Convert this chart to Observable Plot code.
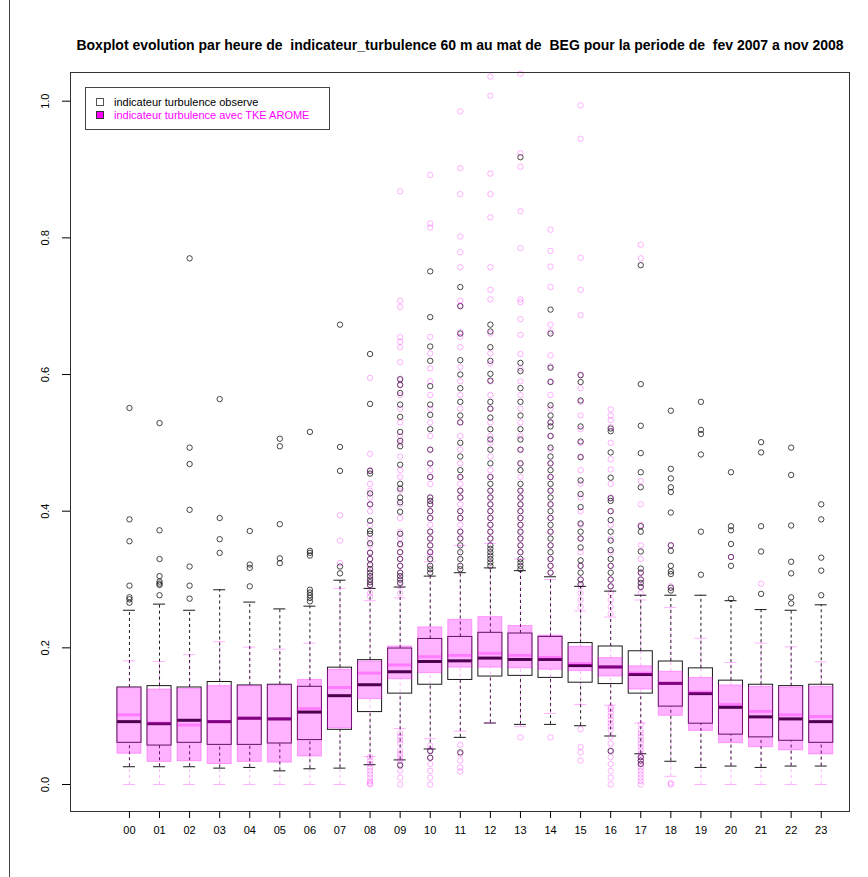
<!DOCTYPE html>
<html><head><meta charset="utf-8">
<script src="https://cdn.jsdelivr.net/npm/d3@7"></script>
<script src="https://cdn.jsdelivr.net/npm/@observablehq/plot@0.6"></script>
<style>
body{margin:0;background:#fff}
#wrap{position:relative;width:868px;height:877px}
svg text{white-space:pre}
</style>
</head><body><div id="wrap"></div>
<script>
const title = "Boxplot evolution par heure de  indicateur_turbulence 60 m au mat de  BEG pour la periode de  fev 2007 a nov 2008";
const hours = ["00","01","02","03","04","05","06","07","08","09","10","11","12","13","14","15","16","17","18","19","20","21","22","23"];
const yTicks = [0, 0.2, 0.4, 0.6, 0.8, 1.0];
const legendLabels = ["indicateur turbulence observe", "indicateur turbulence avec TKE AROME"];

// observed
const obsLow  = [0.026,0.026,0.026,0.024,0.025,0.020,0.023,0.024,0.029,0.036,0.052,0.069,0.090,0.088,0.088,0.086,0.071,0.045,0.034,0.025,0.027,0.025,0.027,0.027];
const obsQ1   = [0.061,0.057,0.061,0.058,0.058,0.060,0.065,0.080,0.106,0.133,0.146,0.153,0.158,0.159,0.156,0.149,0.147,0.133,0.114,0.089,0.073,0.069,0.064,0.061];
const obsMed  = [0.092,0.089,0.094,0.092,0.097,0.096,0.106,0.130,0.146,0.165,0.180,0.181,0.185,0.183,0.183,0.174,0.172,0.161,0.148,0.133,0.113,0.099,0.096,0.092];
const obsQ3   = [0.142,0.144,0.142,0.150,0.145,0.146,0.143,0.171,0.182,0.199,0.213,0.216,0.222,0.221,0.216,0.207,0.202,0.195,0.180,0.170,0.152,0.146,0.144,0.146];
const obsHigh = [0.255,0.264,0.255,0.285,0.267,0.257,0.261,0.299,0.287,0.289,0.305,0.310,0.317,0.313,0.304,0.290,0.283,0.277,0.277,0.277,0.269,0.256,0.255,0.263];
const obsOut = [
 [0.551,0.388,0.356,0.291,0.274,0.271,0.266],
 [0.529,0.372,0.330,0.305,0.297,0.294,0.292,0.277],
 [0.770,0.493,0.469,0.402,0.319,0.291,0.272],
 [0.564,0.390,0.359,0.339],
 [0.371,0.322,0.317,0.290],
 [0.506,0.495,0.381,0.331,0.324],
 [0.516,0.342,0.339,0.335,0.285,0.281,0.277,0.273,0.268],
 [0.673,0.494,0.459,0.319,0.309],
 [0.630,0.557,0.459,0.455,0.426,0.410,0.386,0.371,0.367,0.353,0.339,0.330,0.322,0.315,0.310,0.305,0.300,0.296,0.292],
 [0.593,0.585,0.573,0.556,0.538,0.516,0.503,0.495,0.468,0.440,0.433,0.420,0.413,0.399,0.367,0.352,0.340,0.330,0.320,0.310,0.305,0.300,0.295,0.028],
 [0.751,0.684,0.641,0.620,0.583,0.556,0.541,0.520,0.490,0.470,0.450,0.420,0.415,0.410,0.400,0.390,0.370,0.360,0.350,0.340,0.330,0.320,0.315,0.310,0.049,0.039],
 [0.728,0.700,0.660,0.621,0.600,0.580,0.560,0.540,0.530,0.500,0.480,0.460,0.450,0.430,0.420,0.400,0.390,0.370,0.360,0.350,0.340,0.330,0.320,0.315,0.047],
 [0.673,0.663,0.640,0.620,0.601,0.591,0.560,0.550,0.537,0.520,0.505,0.490,0.470,0.450,0.440,0.430,0.420,0.410,0.400,0.390,0.380,0.370,0.360,0.350,0.345,0.340,0.335,0.330,0.325,0.320],
 [0.918,0.617,0.605,0.580,0.560,0.540,0.520,0.505,0.490,0.470,0.460,0.440,0.430,0.420,0.410,0.400,0.390,0.380,0.370,0.360,0.350,0.340,0.330,0.325,0.320,0.315],
 [0.695,0.660,0.610,0.589,0.555,0.540,0.530,0.524,0.510,0.493,0.480,0.470,0.460,0.450,0.440,0.430,0.420,0.410,0.400,0.390,0.380,0.370,0.360,0.350,0.340,0.330,0.320,0.310],
 [0.599,0.589,0.562,0.524,0.502,0.479,0.445,0.425,0.406,0.382,0.370,0.360,0.347,0.328,0.320,0.310,0.300,0.293],
 [0.521,0.517,0.486,0.449,0.419,0.415,0.400,0.387,0.370,0.357,0.343,0.330,0.320,0.310,0.300,0.290,0.049],
 [0.760,0.586,0.525,0.485,0.457,0.435,0.378,0.370,0.341,0.316,0.310,0.300,0.295,0.289,0.040,0.035,0.030],
 [0.547,0.462,0.448,0.435,0.428,0.398,0.350,0.342,0.320,0.312,0.308,0.288,0.284],
 [0.560,0.519,0.513,0.483,0.370,0.307],
 [0.457,0.378,0.372,0.352,0.333,0.320,0.272],
 [0.501,0.486,0.378,0.341,0.279],
 [0.493,0.453,0.379,0.326,0.309,0.274,0.265],
 [0.410,0.388,0.332,0.313,0.277]
];

// AROME
const aroLow  = [0,0,0,0,0,0,0,0,0.041,0.082,0.067,0.078,0.090,0.085,0.104,0.117,0.116,0.090,0.012,0,0,0,0,0];
const aroQ1   = [0.045,0.033,0.034,0.030,0.033,0.032,0.041,0.082,0.125,0.154,0.163,0.171,0.171,0.170,0.168,0.166,0.158,0.139,0.1005,0.0785,0.0605,0.0545,0.050,0.044];
const aroMed  = [0.102,0.090,0.087,0.092,0.097,0.096,0.111,0.142,0.163,0.175,0.187,0.189,0.192,0.189,0.186,0.177,0.172,0.163,0.148,0.135,0.117,0.107,0.102,0.0995];
const aroQ3   = [0.141,0.139,0.140,0.144,0.144,0.145,0.153,0.168,0.180,0.202,0.230,0.241,0.245,0.232,0.218,0.2015,0.185,0.173,0.165,0.156,0.145,0.143,0.142,0.143];
const aroHigh = [0.181,0.180,0.190,0.209,0.201,0.198,0.207,0.287,0.269,0.273,0.326,0.350,0.353,0.330,0.300,0.254,0.245,0.270,0.259,0.214,0.1785,0.207,0.2015,0.1795];
const aroOut = [
 [],[],[],[],[],[],[],
 [0.394,0.357,0.324],
 [0.595,0.484,0.460,0.440,0.430,0.420,0.410,0.400,0.380,0.360,0.350,0.340,0.330,0.320,0.310,0.300,0.290,0.280,0.275,0.040,0.035,0.030,0.025,0.020,0.015,0.010,0.005,0.002,0.000],
 [0.868,0.708,0.699,0.655,0.648,0.640,0.618,0.594,0.584,0.570,0.550,0.530,0.510,0.500,0.480,0.460,0.450,0.430,0.410,0.390,0.370,0.360,0.350,0.340,0.330,0.320,0.310,0.300,0.290,0.280,0.075,0.070,0.065,0.060,0.050,0.045,0.040,0.035,0.030,0.020,0.010,0.000],
 [0.892,0.821,0.815,0.655,0.631,0.609,0.590,0.570,0.550,0.530,0.510,0.490,0.470,0.460,0.450,0.440,0.420,0.410,0.400,0.390,0.380,0.370,0.360,0.350,0.340,0.335,0.057,0.050,0.040,0.030,0.020,0.010,0.000],
 [0.985,0.902,0.864,0.802,0.779,0.757,0.708,0.701,0.662,0.655,0.640,0.611,0.590,0.570,0.550,0.530,0.510,0.490,0.470,0.450,0.440,0.430,0.420,0.410,0.400,0.390,0.380,0.370,0.360,0.058,0.045,0.035,0.025,0.019],
 [1.036,1.008,0.894,0.864,0.830,0.757,0.724,0.710,0.660,0.631,0.616,0.590,0.570,0.550,0.530,0.510,0.500,0.480,0.460,0.450,0.430,0.420,0.410,0.400,0.390,0.380,0.370,0.360],
 [1.040,0.924,0.904,0.839,0.785,0.710,0.706,0.681,0.658,0.630,0.609,0.590,0.570,0.550,0.530,0.510,0.490,0.470,0.450,0.430,0.420,0.410,0.400,0.390,0.380,0.370,0.360,0.350,0.340,0.069],
 [0.812,0.781,0.758,0.728,0.673,0.663,0.628,0.612,0.590,0.570,0.550,0.530,0.510,0.490,0.470,0.450,0.430,0.410,0.390,0.370,0.350,0.330,0.320,0.310,0.069],
 [0.994,0.945,0.771,0.724,0.687,0.600,0.580,0.560,0.540,0.520,0.500,0.480,0.460,0.440,0.420,0.400,0.380,0.360,0.340,0.320,0.300,0.290,0.280,0.270,0.260,0.081,0.055,0.047,0.035],
 [0.549,0.540,0.533,0.523,0.500,0.476,0.461,0.440,0.420,0.400,0.380,0.360,0.340,0.320,0.300,0.290,0.280,0.270,0.260,0.250,0.113,0.110,0.105,0.100,0.095,0.090,0.085,0.080,0.070,0.060,0.050,0.040,0.030,0.020,0.010,0.000],
 [0.790,0.770,0.444,0.410,0.380,0.350,0.330,0.310,0.300,0.290,0.280,0.088,0.080,0.075,0.070,0.065,0.060,0.055,0.050,0.045,0.040,0.035,0.030,0.025,0.020,0.015,0.010,0.005,0.000],
 [0.350,0.290,0.000,0.002],
 [],
 [0.333],
 [0.294],
 [],[]
];

const rows = (lo,q1,med,q3,hi) => hours.map((h,i)=>({i, lo:lo[i], q1:q1[i], med:med[i], q3:q3[i], hi:hi[i]}));
const obsRows = rows(obsLow,obsQ1,obsMed,obsQ3,obsHigh);
const aroRows = rows(aroLow,aroQ1,aroMed,aroQ3,aroHigh);
const outs = arr => arr.flatMap((vals,i)=>vals.map(v=>({i, v})));
const obsOutRows = outs(obsOut);
const aroOutRows = outs(aroOut);

const BW = 0.4, CW = 0.2;
const MAG = "#ff00ff", A = 0.3, DARK = "#1a1a1a";

function boxMarks(data, outData, o) {
  return [
    Plot.rect(data, {x1: d=>d.i-BW, x2: d=>d.i+BW, y1:"q1", y2:"q3", fill:o.fill, fillOpacity:o.fillOpacity, stroke:o.stroke, strokeOpacity:o.op, strokeWidth:1}),
    Plot.ruleX(data, {x:"i", y1:"q3", y2:"hi", stroke:o.stroke, strokeOpacity:o.op, strokeDasharray:"3,3"}),
    Plot.ruleX(data, {x:"i", y1:"lo", y2:"q1", stroke:o.stroke, strokeOpacity:o.op, strokeDasharray:"3,3"}),
    Plot.ruleY(data, {y:"hi", x1: d=>d.i-CW, x2: d=>d.i+CW, stroke:o.stroke, strokeOpacity:o.op}),
    Plot.ruleY(data, {y:"lo", x1: d=>d.i-CW, x2: d=>d.i+CW, stroke:o.stroke, strokeOpacity:o.op}),
    Plot.ruleY(data, {y:"med", x1: d=>d.i-BW, x2: d=>d.i+BW, stroke:o.medStroke, strokeOpacity:o.op, strokeWidth:3}),
    Plot.dot(outData, {x:"i", y:"v", r:2.7, stroke:o.stroke, strokeOpacity:o.dotOp, strokeWidth:1, fill:"none"})
  ];
}

const chart = Plot.plot({
  width: 868, height: 877,
  marginTop: 72, marginRight: 19, marginBottom: 66, marginLeft: 70,
  style: {fontFamily: "'Liberation Sans', Arial, sans-serif", fontSize: "11px", background: "white", color: "black"},
  x: {type: "linear", domain: [-1.96, 23.94]},
  y: {domain: [-0.0395, 1.042]},
  marks: [
    ...boxMarks(obsRows, obsOutRows, {fill:"white", fillOpacity:1, stroke:DARK, medStroke:"#000", op:1, dotOp:0.8}),
    ...boxMarks(aroRows, aroOutRows, {fill:MAG, fillOpacity:A, stroke:MAG, medStroke:MAG, op:A, dotOp:A}),
    Plot.frame({stroke: "#333"}),
    Plot.axisX(d3.range(hours.length), {tickSize: 7, tickPadding: 8, tickFormat: i => hours[i], fontSize: 11, label: null}),
    Plot.axisY(yTicks, {tickSize: 8, tickFormat: () => "", label: null}),
    Plot.text(yTicks, {y: d => d, text: d => d.toFixed(1), frameAnchor: "left", dx: -25, rotate: -90, fontSize: 11, textAnchor: "middle", lineAnchor: "middle"}),
    Plot.text([title], {text: d => d, frameAnchor: "top", dy: -27, fontWeight: "bold", fontSize: 14, lineAnchor: "middle"})
  ]
});

const svg = d3.select(chart);
svg.append("line").attr("x1", 9.5).attr("x2", 9.5).attr("y1", 0).attr("y2", 877).attr("stroke", "#444");
const lg = svg.append("g");
lg.append("rect").attr("x", 85.5).attr("y", 87.5).attr("width", 244).attr("height", 42).attr("fill", "white").attr("stroke", "#444");
lg.append("rect").attr("x", 96.5).attr("y", 98.5).attr("width", 7).attr("height", 7).attr("fill", "white").attr("stroke", "#555");
lg.append("rect").attr("x", 96.5).attr("y", 111.5).attr("width", 7).attr("height", 7).attr("fill", MAG).attr("stroke", "#333");
legendLabels.forEach((t, k) => {
  lg.append("text").attr("x", 114).attr("y", 102 + k * 13).attr("dy", "0.35em")
    .attr("text-anchor", "start").attr("font-size", 11).attr("fill", k ? MAG : "black").text(t);
});

document.getElementById("wrap").appendChild(chart);
</script>
</body></html>
